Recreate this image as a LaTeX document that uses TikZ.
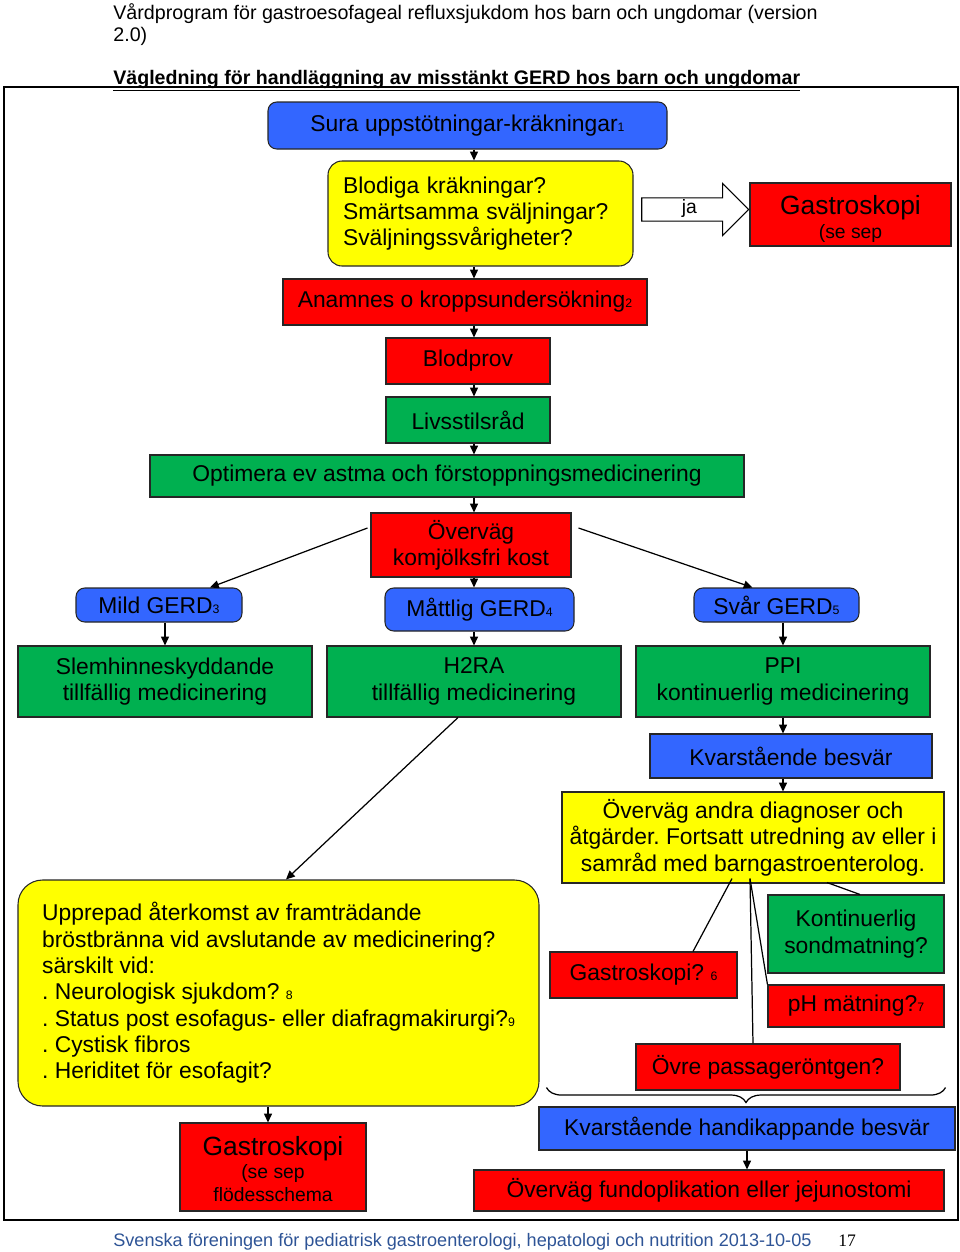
\documentclass[tikz,border=0pt]{standalone}
\usepackage{fontspec}
\setmainfont{Liberation Sans}
\newfontfamily\pagefont{Liberation Serif}
\usetikzlibrary{arrows.meta,shapes.arrows,calc,decorations.pathreplacing}
\frenchspacing

\definecolor{boxblue}{RGB}{51,102,255}
\definecolor{boxred}{RGB}{255,0,0}
\definecolor{boxgreen}{RGB}{0,176,80}
\definecolor{boxyellow}{RGB}{255,255,0}
\definecolor{footblue}{RGB}{46,84,150}

\newcommand{\fnum}[1]{{\fontsize{7pt}{8pt}\selectfont#1}}
\newcommand{\bigline}[1]{{\fontsize{15pt}{17pt}\selectfont#1}}
\newcommand{\smallline}[1]{{\fontsize{11pt}{13pt}\selectfont#1}}

\tikzset{
  box/.style={draw=black!85, line width=0.6pt, align=center, inner sep=2pt,
    font=\fontsize{13pt}{15pt}\selectfont},
  wh/.style 2 args={minimum width=#1*0.02cm, minimum height=#2*0.02cm},
  bluebox/.style={box, fill=boxblue},
  redbox/.style={box, fill=boxred},
  greenbox/.style={box, fill=boxgreen},
  yellowbox/.style={box, fill=boxyellow},
  rbox/.style={rounded corners=5pt},
  arr/.style={-{Triangle[length=5pt,width=4.5pt]}, line width=0.7pt},
  link/.style={line width=0.7pt},
  jaarrow/.style={shape=single arrow, draw=black, fill=white, line width=0.6pt,
    single arrow head extend=0.29cm, minimum height=2.14cm,
    text height=7.5pt, text depth=2.5pt, inner ysep=1.3pt,
    font=\fontsize{11pt}{13pt}\selectfont}
}

\begin{document}
\begin{tikzpicture}[x={(0.02cm,0)}, y={(0,-0.02cm)}]
  \useasboundingbox (0,0) rectangle (960,1252);

  % header and frame
  \node[anchor=north west, align=left, inner sep=0pt,
    font=\fontsize{11.2pt}{12.5pt}\selectfont] (head) at (113,3)
    {Vårdprogram för gastroesofageal refluxsjukdom hos barn och ungdomar (version\\2.0)};
  \node[anchor=base west, inner sep=0pt,
    font=\bfseries\fontsize{11.15pt}{12.5pt}\selectfont] (title) at (113,84)
    {\underline{Vägledning för handläggning av misstänkt GERD hos barn och ungdomar}};
  \draw[line width=0.7pt] (4,87) rectangle (958,1220);

  % upper column
  \coordinate (spine) at (474,0);
  \node[bluebox, rbox, wh={399}{47}] (sura) at (467.5,125.5)
    {Sura uppstötningar-kräkningar\fnum{1}};
  \node[yellowbox, rounded corners=8pt, wh={305}{105}, text width=5.5cm,
    align=left, inner xsep=0.3cm] (blod) at (480.5,213.5)
    {Blodiga kräkningar?\\Smärtsamma sväljningar?\\Sväljningssvårigheter?};
  \node[redbox, wh={201}{63}] (gastroA) at (850.5,214.5)
    {\rule{0pt}{16pt}\bigline{Gastroskopi}\\[-1.5pt]\smallline{(se sep}};
  \node[jaarrow, anchor=tip] (ja) at ($(gastroA.west)+(0,-5)$) {ja};
  \node[redbox, wh={364}{46}] (anam) at (465,302)
    {Anamnes o kroppsundersökning\fnum{2}};
  \node[redbox, wh={164}{46}] (blodprov) at (468,361) {Blodprov};
  \node[greenbox, wh={164}{46}] (livs) at (468,420) {Livsstilsråd};
  \node[greenbox, wh={594}{42}] (optim) at (447,476)
    {Optimera ev astma och förstoppningsmedicinering};
  \node[redbox, wh={200}{64}] (overv) at (471,545)
    {Överväg\\komjölksfri kost};

  \draw[arr] (sura.south -| spine) -- (blod.north -| spine);
  \draw[arr] (blod.south -| spine) -- (anam.north -| spine);
  \draw[arr] (anam.south -| spine) -- (blodprov.north -| spine);
  \draw[arr] (blodprov.south -| spine) -- (livs.north -| spine);
  \draw[arr] (livs.south -| spine) -- (optim.north -| spine);
  \draw[arr] (optim.south -| spine) -- (overv.north -| spine);

  % three grades
  \node[bluebox, rbox, wh={166}{34}] (mild) at (159,605) {Mild GERD\fnum{3}};
  \node[bluebox, rbox, wh={189}{43}] (mattlig) at (479.5,609.5) {Måttlig GERD\fnum{4}};
  \node[bluebox, rbox, wh={165}{34}] (svar) at (776.5,605) {Svår GERD\fnum{5}};
  \node[greenbox, wh={294}{71}] (slem) at (165,681.5)
    {Slemhinneskyddande\\tillfällig medicinering};
  \node[greenbox, wh={294}{71}] (h2ra) at (474,681.5)
    {H2RA\\tillfällig medicinering};
  \node[greenbox, wh={294}{71}] (ppi) at (783,681.5)
    {PPI\\kontinuerlig medicinering};

  \draw[arr] ($(overv.west)+(-3,-17)$) -- ($(mild.north)+(51,0)$);
  \draw[arr] ($(overv.east)+(7,-17)$) -- ($(svar.north)+(-24,0)$);
  \draw[arr] (overv.south -| spine) -- (mattlig.north -| spine);
  \draw[arr] (mild.south -| slem.north) -- (slem.north);
  \draw[arr] (mattlig.south -| h2ra.north) -- (h2ra.north);
  \draw[arr] (svar.south -| ppi.north) -- (ppi.north);

  % right branch
  \node[bluebox, wh={282}{44}] (kvar) at (791,756) {Kvarstående besvär};
  \node[yellowbox, wh={382}{91}, inner sep=1pt] (andra) at (753,837.5)
    {Överväg andra diagnoser och\\åtgärder. Fortsatt utredning av eller i\\samråd med barngastroenterolog.};
  \node[redbox, wh={187}{46}] (gq) at (643.5,975) {Gastroskopi? \fnum{6}};
  \node[greenbox, wh={176}{78}] (kont) at (856,934)
    {Kontinuerlig\\sondmatning?};
  \node[redbox, wh={176}{42}] (ph) at (856,1006) {pH mätning?\fnum{7}};
  \node[redbox, wh={264}{46}] (ovre) at (768,1067) {Övre passageröntgen?};
  \node[bluebox, wh={416}{43}] (handi) at (747,1128.5)
    {Kvarstående handikappande besvär};
  \node[redbox, wh={470}{41}] (fundo) at (709,1190.5)
    {Överväg fundoplikation eller jejunostomi};

  \draw[arr] (ppi.south) -- (ppi.south |- kvar.north);
  \draw[arr] (kvar.south -| ppi.south) -- (andra.north -| ppi.south);
  \draw[link] ($(andra.south)+(-21,-5)$) -- ($(gq.north)+(49.5,0)$);
  \draw[link] ($(andra.south)+(-3,-5)$) -- ($(ovre.north)+(-15,0)$);
  \draw[link] ($(andra.south)+(-3,-5)$) -- (ph.north west);
  \draw[link] ($(andra.south)+(74,-1)$) -- ($(kont.north)+(4,0)$);
  \coordinate (braceR) at ($(kont.east |- ovre.south)+(1,-3)$);
  \coordinate (braceL) at ($(gq.west |- ovre.south)+(-3,-3)$);
  \draw[link, decorate, decoration={brace, amplitude=0.3cm}] (braceR) -- (braceL);
  \draw[arr] (handi.south) -- (handi.south |- fundo.north);

  % left branch
  \node[yellowbox, rounded corners=14pt, wh={521}{226}, align=left] (upp) at (278.5,993)
    {Upprepad återkomst av framträdande\\
     bröstbränna vid avslutande av medicinering?\\
     särskilt vid:\\
     . Neurologisk sjukdom? \fnum{8}\\
     . Status post esofagus- eller diafragmakirurgi?\fnum{9}\\
     . Cystisk fibros\\
     . Heriditet för esofagit?};
  \node[redbox, wh={186}{88}] (gastroB) at (273,1167)
    {\rule{0pt}{13pt}\bigline{Gastroskopi}\\[-2pt]\smallline{(se sep}\\[-2pt]\smallline{flödesschema}};

  \draw[arr] ($(h2ra.south)+(-16,0)$) -- ($(upp.north)+(7.5,0)$);
  \draw[arr] ($(upp.south)+(-10.5,0)$) -- ($(gastroB.north)+(-5,0)$);

  % footer
  \node[anchor=base west, inner sep=0pt, text=footblue,
    font=\fontsize{10.3pt}{12pt}\selectfont] (foot) at (113,1246)
    {Svenska föreningen för pediatrisk gastroenterologi, hepatologi och nutrition 2013-10-05};
  \node[anchor=base west, inner sep=0pt, font=\pagefont\fontsize{10pt}{12pt}\selectfont]
    (page) at (838,1246) {17};
\end{tikzpicture}
\end{document}
